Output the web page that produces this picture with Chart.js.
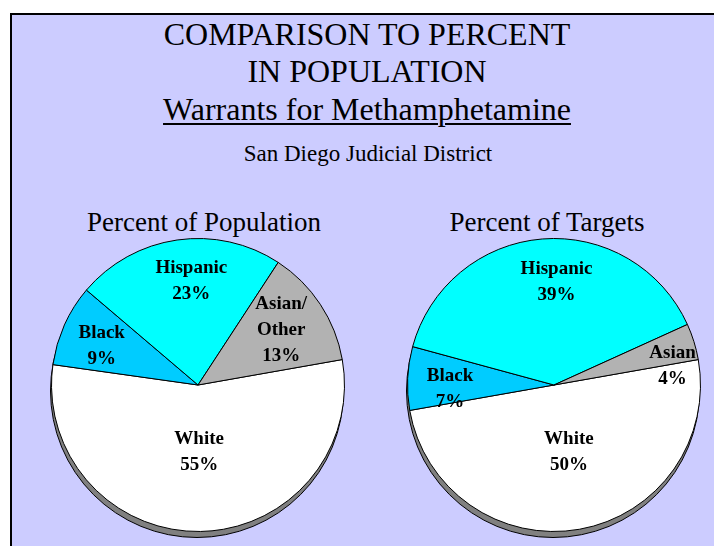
<!DOCTYPE html>
<html>
<head>
    <title>Comparison to Percent in Population</title>
    <script src="https://cdn.jsdelivr.net/npm/chart.js"></script>
    <style>
        body {
            margin: 0;
            background: #fff;
            overflow: hidden;
        }
        .frame {
            position: absolute;
            left: 10px;
            top: 13px;
            width: 720px;
            height: 560px;
            background: #ccccff;
            border-left: 2px solid #000;
            border-top: 2px solid #000;
        }
        .txt {
            position: absolute;
            white-space: nowrap;
            transform: translate(-50%, -50%);
            color: #000;
            line-height: 1;
            font-family: "Liberation Serif", "DejaVu Serif", serif;
            font-weight: normal;
        }
        canvas {
            position: absolute;
        }
    </style>
</head>
<body>
    <div class="frame"></div>

    <div class="txt" style="left:367px; top:34px; font-size:32px;">COMPARISON TO PERCENT</div>
    <div class="txt" style="left:367px; top:71px; font-size:32px;">IN POPULATION</div>
    <div class="txt" style="left:367px; top:109px; font-size:32px; text-decoration:underline; text-decoration-thickness:2px; text-underline-offset:3px;">Warrants for Methamphetamine</div>
    <div class="txt" style="left:368px; top:153px; font-size:23px;">San Diego Judicial District</div>

    <div class="txt" style="left:204px; top:222px; font-size:27px;">Percent of Population</div>
    <div class="txt" style="left:547px; top:222px; font-size:27px;">Percent of Targets</div>

    <canvas id="popChart" width="314" height="318" style="left:41px; top:228px;"></canvas>
    <canvas id="targetChart" width="314" height="318" style="left:397px; top:228px;"></canvas>

    <script>
        // data (percent)
        const popLabels = ['White', 'Black', 'Hispanic', 'Asian/Other'];
        const popValues = [55, 9, 23, 13];

        const targetLabels = ['White', 'Black', 'Hispanic', 'Asian'];
        const targetValues = [50, 7, 39, 4];

        const sliceColors = ['#ffffff', '#00ccff', '#00ffff', '#b2b2b2'];

        // where each label sits: fraction of radius, angle shift in degrees
        const popLabelPos = [[0.46, 0], [0.71, -2], [0.71, 4.5], [0.68, 0]];
        const targetLabelPos = [[0.47, -2.5], [0.71, -5], [0.70, 6], [0.82, 8]];

        // grey rim under the pie
        const shadowPlugin = {
            id: 'pieShadow',
            beforeDatasetsDraw(chart) {
                const arc = chart.getDatasetMeta(0).data[0];
                if (!arc) return;
                const { x, y, outerRadius } = arc.getProps(['x', 'y', 'outerRadius'], true);
                const ctx = chart.ctx;
                ctx.save();
                ctx.beginPath();
                ctx.arc(x - 1, y + 6, outerRadius, 0, Math.PI * 2);
                ctx.fillStyle = '#808080';
                ctx.fill();
                ctx.lineWidth = 1;
                ctx.strokeStyle = '#000';
                ctx.stroke();
                ctx.restore();
            }
        };

        // name + percent written inside each slice
        const sliceLabelPlugin = {
            id: 'sliceLabels',
            afterDatasetsDraw(chart, args, opts) {
                const ctx = chart.ctx;
                const meta = chart.getDatasetMeta(0);
                const values = chart.data.datasets[0].data;
                ctx.save();
                ctx.font = 'bold 19px "Liberation Serif", "Times New Roman", serif';
                ctx.fillStyle = '#000';
                ctx.textAlign = 'center';
                ctx.textBaseline = 'middle';
                meta.data.forEach((arc, i) => {
                    const p = arc.getProps(['x', 'y', 'startAngle', 'endAngle', 'outerRadius'], true);
                    const pos = opts.positions[i];
                    const mid = (p.startAngle + p.endAngle) / 2 + pos[1] * Math.PI / 180;
                    const cx = p.x + Math.cos(mid) * p.outerRadius * pos[0];
                    const cy = p.y + Math.sin(mid) * p.outerRadius * pos[0];
                    const name = chart.data.labels[i];
                    const lines = name.includes('/') ? [name.split('/')[0] + '/', name.split('/')[1]] : [name];
                    lines.push(values[i] + '%');
                    const lh = 26;
                    const top = cy - (lines.length - 1) * lh / 2;
                    lines.forEach((t, k) => ctx.fillText(t, cx, top + k * lh));
                });
                ctx.restore();
            }
        };

        function makePie(id, labels, values, positions) {
            const ctx = document.getElementById(id).getContext('2d');
            return new Chart(ctx, {
                type: 'pie',
                data: {
                    labels: labels,
                    datasets: [{
                        data: values,
                        backgroundColor: sliceColors,
                        borderColor: '#000',
                        borderWidth: 1
                    }]
                },
                options: {
                    responsive: false,
                    animation: false,
                    rotation: 80,
                    layout: { padding: { left: 10, right: 10, top: 10, bottom: 14 } },
                    plugins: {
                        legend: { display: false },
                        tooltip: { enabled: false },
                        sliceLabels: { positions: positions }
                    }
                },
                plugins: [shadowPlugin, sliceLabelPlugin]
            });
        }

        makePie('popChart', popLabels, popValues, popLabelPos);
        makePie('targetChart', targetLabels, targetValues, targetLabelPos);
    </script>
</body>
</html>
